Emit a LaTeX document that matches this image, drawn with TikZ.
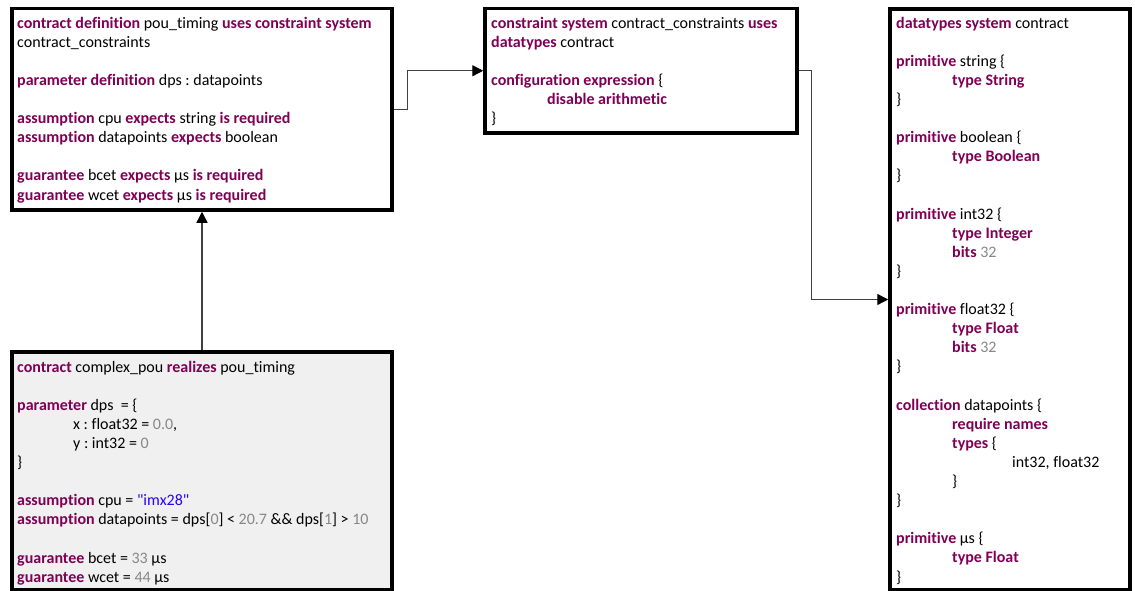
\documentclass[tikz,border=0pt]{standalone}
\usepackage{fontspec}
\setmainfont{Carlito}[Ligatures={NoCommon}]
\usetikzlibrary{arrows.meta}

\definecolor{kwcol}{RGB}{127,0,85}
\definecolor{numcol}{RGB}{135,135,135}
\definecolor{strcol}{RGB}{42,0,255}
\definecolor{linecol}{RGB}{64,64,64}
\definecolor{implfill}{RGB}{240,240,240}

% syntax highlighting helpers
\newcommand{\kwd}[1]{\textbf{\color{kwcol}#1}}
\newcommand{\nmb}[1]{{\color{numcol}#1}}
\newcommand{\strg}[1]{{\color{strcol}#1}}
\newcommand{\tb}{\hspace*{56pt}}
\newcommand{\tbb}{\hspace*{116pt}}
\newcommand{\gap}{\\[19.1pt]}
% straight double quote, set as a glyph so no quote mapping applies
\newcommand{\dq}{\XeTeXglyph\XeTeXcharglyph"22\relax}

\begin{document}
\frenchspacing
\begin{tikzpicture}[x=1pt,y=-1pt,
  box/.style={draw=black,line width=3.5pt,rectangle,inner sep=0pt},
  code/.style={anchor=north west,inner sep=0pt,align=left,
    font=\fontsize{16}{19.1}\selectfont\frenchspacing},
  conn/.style={draw=linecol,line width=1.3pt,
    -{Triangle[length=11pt,width=11pt,color=black]}}]
\useasboundingbox (0,0) rectangle (1135,591);

% boxes
\node[box,minimum width=380pt,minimum height=201.5pt] (b1) at (202,109.25) {};
\node[box,fill=implfill,minimum width=380pt,minimum height=238pt] (b2) at (202,471) {};
\node[box,minimum width=312pt,minimum height=124.5pt] (b3) at (641,70.75) {};
\node[box,minimum width=240pt,minimum height=581pt] (b4) at (1010,299.5) {};

% box contents
\node[code] (t1) at (17,14.6) {\strut\kwd{contract definition} pou\_timing \kwd{uses constraint system}\\
contract\_constraints\gap
\kwd{parameter definition} dps : datapoints\gap
\kwd{assumption} cpu \kwd{expects} string \kwd{is required}\\
\kwd{assumption} datapoints \kwd{expects} boolean\gap
\kwd{guarantee} bcet \kwd{expects} µs \kwd{is required}\\
\kwd{guarantee} wcet \kwd{expects} µs \kwd{is required}};

\node[code] (t2) at (17,358.6) {\strut\kwd{contract} complex\_pou \kwd{realizes} pou\_timing\gap
\kwd{parameter} dps\ \ = \{\\
\tb x : float32 = \nmb{0.0},\\
\tb y : int32 = \nmb{0}\\
\}\gap
\kwd{assumption} cpu = \strg{\dq imx28\dq}\\
\kwd{assumption} datapoints = dps[\nmb{0}] < \nmb{20.7} \&\& dps[\nmb{1}] > \nmb{10}\gap
\kwd{guarantee} bcet = \nmb{33} µs\\
\kwd{guarantee} wcet = \nmb{44} µs};

\node[code] (t3) at (491,14.6) {\strut\kwd{constraint system} contract\_constraints \kwd{uses}\\
\kwd{datatypes} contract\gap
\kwd{configuration expression} \{\\
\tb\kwd{disable arithmetic}\\
\}};

\node[code] (t4) at (896,14.6) {\strut\kwd{datatypes system} contract\gap
\kwd{primitive} string \{\\
\tb\kwd{type String}\\
\}\gap
\kwd{primitive} boolean \{\\
\tb\kwd{type Boolean}\\
\}\gap
\kwd{primitive} int32 \{\\
\tb\kwd{type Integer}\\
\tb\kwd{bits} \nmb{32}\\
\}\gap
\kwd{primitive} float32 \{\\
\tb\kwd{type Float}\\
\tb\kwd{bits} \nmb{32}\\
\}\gap
\kwd{collection} datapoints \{\\
\tb\kwd{require names}\\
\tb\kwd{types} \{\\
\tbb int32, float32\\
\tb\}\\
\}\gap
\kwd{primitive} µs \{\\
\tb\kwd{type Float}\\
\}};

% connectors
\draw[conn] (b1.east) -- ++(13.5,0) |- (b3.west);
\draw[conn] (b3.east) -- ++(12.5,0) |- (b4.west);
\draw[conn] (b2.north) -- (b1.south);
\end{tikzpicture}
\end{document}
